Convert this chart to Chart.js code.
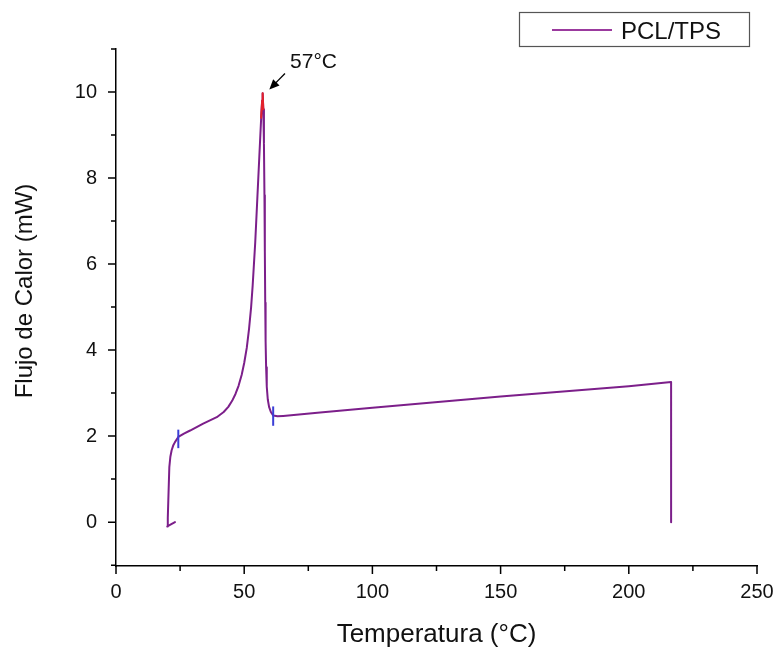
<!DOCTYPE html>
<html>
<head>
<meta charset="utf-8">
<script src="https://cdn.jsdelivr.net/npm/chart.js@4.4.1/dist/chart.umd.min.js"></script>
<style>
  html, body { margin: 0; padding: 0; background: #fff; }
  #wrap { width: 778px; height: 652px; }
</style>
</head>
<body>
<div id="wrap"><canvas id="c" width="778" height="652"></canvas></div>
<script>
// ---- data ----
const seriesLabel = "PCL/TPS";
const temperature = [23.0, 20.0, 20.2, 20.4, 20.8, 21.2, 21.7, 22.3, 23.0, 24.3, 26.5, 28.9, 34.0, 39.3, 42.0, 43.8, 45.3, 46.6, 47.8, 49.0, 50.0, 51.0, 51.9, 52.7, 53.3, 53.8, 54.3, 54.7, 55.1, 55.5, 55.9, 56.3, 56.7, 57.0, 57.2, 57.45, 57.7, 57.9, 58.05, 58.2, 58.35, 58.55, 58.8, 59.2, 59.7, 60.4, 61.3, 63.0, 65.2, 79.6, 100, 150, 200, 216.5, 216.5];
const heatFlow    = [0.0, -0.10, 0.1, 0.5, 1.28, 1.52, 1.67, 1.78, 1.86, 1.98, 2.06, 2.13, 2.29, 2.44, 2.56, 2.68, 2.82, 2.98, 3.17, 3.42, 3.7, 4.05, 4.5, 5.0, 5.5, 6.0, 6.5, 7.0, 7.5, 8.0, 8.5, 9.0, 9.5, 9.8, 9.97, 9.6, 8.8, 7.6, 6.3, 5.1, 4.2, 3.6, 3.15, 2.85, 2.68, 2.56, 2.48, 2.46, 2.47, 2.55, 2.66, 2.92, 3.16, 3.26, 0.0];
// red highlight at the peak maximum
const peakTemp = [56.6, 57.0, 57.2, 57.45];
const peakFlow = [9.4, 9.8, 9.97, 9.6];
// blue onset / endset markers
const onsetTemp = [24.3, 24.3];
const onsetFlow = [1.72, 2.15];
const endsetTemp = [61.3, 61.3];
const endsetFlow = [2.24, 2.69];
// axis ticks
const xTicks = [0, 50, 100, 150, 200, 250];
const xMinorTicks = [25, 75, 125, 175, 225];
const yTicks = [0, 2, 4, 6, 8, 10];
const yMinorTicks = [-1, 1, 3, 5, 7, 9, 11];
const xTitle = "Temperatura (°C)";
const yTitle = "Flujo de Calor (mW)";
const peakLabel = "57°C";
const peakLabelAt = { x: 67.9, y: 10.55 };
const arrowFrom = { x: 65.9, y: 10.43 };
const arrowTo = { x: 59.8, y: 10.06 };

const toXY = (xs, ys) => xs.map((v, i) => ({ x: v, y: ys[i] }));
const FONT = "'Liberation Sans', Arial, sans-serif";
const LINE = '#7c1f8a';

const decor = {
  id: 'decor',
  afterDraw(chart) {
    const { ctx, scales: { x, y }, chartArea: a } = chart;
    ctx.save();
    ctx.strokeStyle = '#000';
    ctx.lineWidth = 1.5;
    ctx.beginPath();
    xTicks.forEach(v => { const p = x.getPixelForValue(v); ctx.moveTo(p, a.bottom); ctx.lineTo(p, a.bottom + 8); });
    xMinorTicks.forEach(v => { const p = x.getPixelForValue(v); ctx.moveTo(p, a.bottom); ctx.lineTo(p, a.bottom + 5); });
    yTicks.forEach(v => { const p = y.getPixelForValue(v); ctx.moveTo(a.left, p); ctx.lineTo(a.left - 8, p); });
    yMinorTicks.forEach(v => { const p = y.getPixelForValue(v); ctx.moveTo(a.left, p); ctx.lineTo(a.left - 5, p); });
    ctx.stroke();

    // axis titles
    ctx.fillStyle = '#111';
    ctx.font = '26px ' + FONT;
    ctx.textAlign = 'center';
    ctx.textBaseline = 'alphabetic';
    ctx.fillText(xTitle, (a.left + a.right) / 2, 642);
    ctx.save();
    ctx.translate(32, 291);
    ctx.rotate(-Math.PI / 2);
    ctx.font = '24px ' + FONT;
    ctx.fillText(yTitle, 0, 0);
    ctx.restore();

    // peak annotation
    ctx.font = '21px ' + FONT;
    ctx.textAlign = 'left';
    ctx.fillText(peakLabel, x.getPixelForValue(peakLabelAt.x), y.getPixelForValue(peakLabelAt.y));
    const x1 = x.getPixelForValue(arrowFrom.x), y1 = y.getPixelForValue(arrowFrom.y);
    const x2 = x.getPixelForValue(arrowTo.x), y2 = y.getPixelForValue(arrowTo.y);
    const ang = Math.atan2(y2 - y1, x2 - x1);
    ctx.strokeStyle = '#000';
    ctx.lineWidth = 1.3;
    ctx.beginPath();
    ctx.moveTo(x1, y1);
    ctx.lineTo(x2 - 6 * Math.cos(ang), y2 - 6 * Math.sin(ang));
    ctx.stroke();
    ctx.fillStyle = '#000';
    ctx.beginPath();
    ctx.moveTo(x2, y2);
    ctx.lineTo(x2 - 10 * Math.cos(ang) + 4.5 * Math.sin(ang), y2 - 10 * Math.sin(ang) - 4.5 * Math.cos(ang));
    ctx.lineTo(x2 - 10 * Math.cos(ang) - 4.5 * Math.sin(ang), y2 - 10 * Math.sin(ang) + 4.5 * Math.cos(ang));
    ctx.closePath();
    ctx.fill();

    // legend box
    ctx.strokeStyle = '#555';
    ctx.lineWidth = 1.2;
    ctx.strokeRect(519.5, 12.5, 230, 34);
    const ds = chart.data.datasets[0];
    ctx.strokeStyle = '#9b3a9e';
    ctx.lineWidth = 2;
    ctx.beginPath();
    ctx.moveTo(552, 30); ctx.lineTo(612, 30);
    ctx.stroke();
    ctx.fillStyle = '#111';
    ctx.font = '24px ' + FONT;
    ctx.textAlign = 'left';
    ctx.fillText(ds.label, 621, 38.5);
    ctx.restore();
  }
};

const lineStyle = { pointRadius: 0, tension: 0, fill: false, borderWidth: 2, borderJoinStyle: 'round', borderCapStyle: 'round' };

new Chart(document.getElementById('c'), {
  type: 'line',
  data: {
    datasets: [
      Object.assign({ label: seriesLabel, order: 2, data: toXY(temperature, heatFlow), borderColor: LINE }, lineStyle),
      Object.assign({ label: '_peak', order: 1, data: toXY(peakTemp, peakFlow), borderColor: '#e3212b' }, lineStyle),
      Object.assign({ label: '_onset', order: 0, data: toXY(onsetTemp, onsetFlow), borderColor: '#3b3fd6' }, lineStyle, { borderCapStyle: 'butt' }),
      Object.assign({ label: '_endset', order: 0, data: toXY(endsetTemp, endsetFlow), borderColor: '#3b3fd6' }, lineStyle, { borderCapStyle: 'butt' })
    ]
  },
  options: {
    responsive: false,
    animation: false,
    devicePixelRatio: 1,
    layout: { padding: { left: 0, top: 49, right: 21, bottom: 0 } },
    plugins: { legend: { display: false }, tooltip: { enabled: false } },
    scales: {
      x: {
        type: 'linear',
        min: 0, max: 250,
        afterBuildTicks: s => { s.ticks = xTicks.map(v => ({ value: v })); },
        afterFit: s => { s.height = 86; s.paddingLeft = 0; s.paddingRight = 0; },
        grid: { display: false, drawTicks: false },
        border: { display: true, color: '#000', width: 1.5 },
        ticks: { color: '#111', font: { family: FONT, size: 20 }, padding: 14, maxRotation: 0, autoSkip: false }
      },
      y: {
        type: 'linear',
        min: -1.02, max: 11,
        afterBuildTicks: s => { s.ticks = yTicks.map(v => ({ value: v })); },
        afterFit: s => { s.width = 116; s.paddingTop = 0; s.paddingBottom = 0; },
        grid: { display: false, drawTicks: false },
        border: { display: true, color: '#000', width: 1.5 },
        ticks: { color: '#111', font: { family: FONT, size: 20 }, padding: 19, autoSkip: false }
      }
    }
  },
  plugins: [decor]
});
</script>
</body>
</html>
